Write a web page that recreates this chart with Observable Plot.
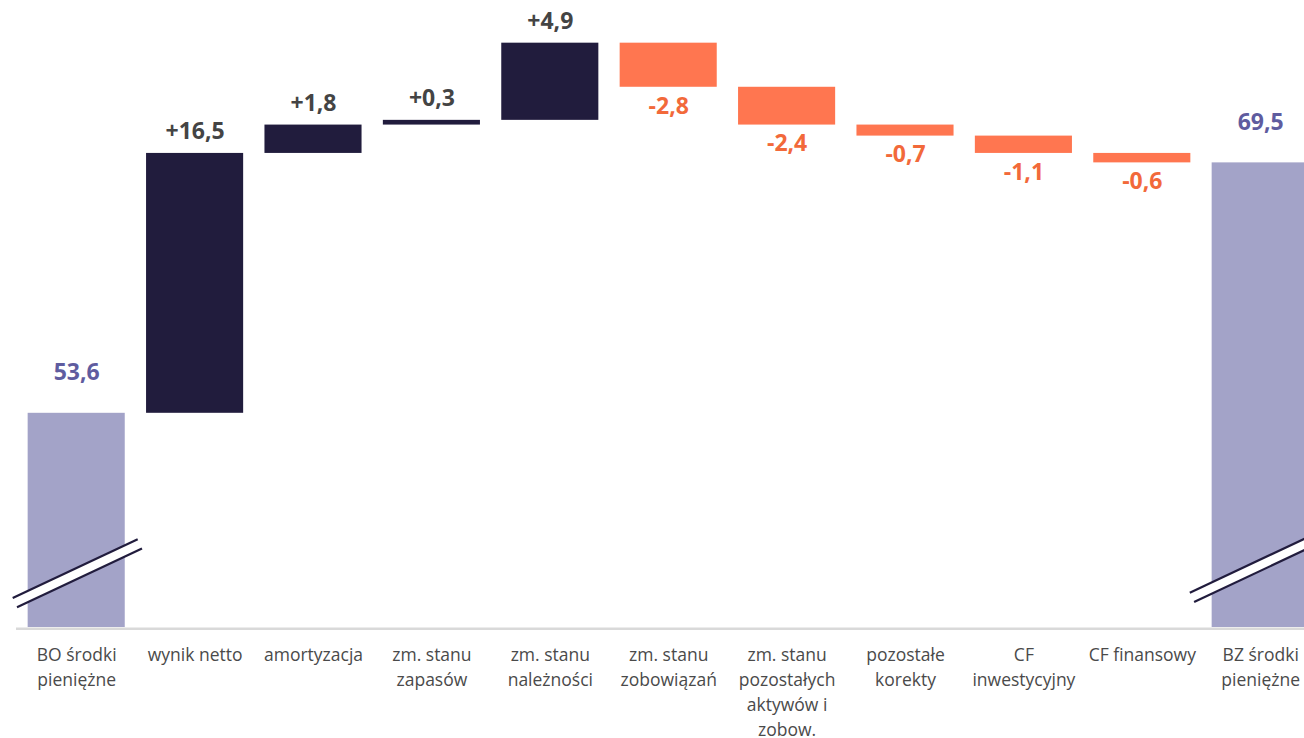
<!DOCTYPE html>
<html><head><meta charset="utf-8">
<script src="https://cdn.jsdelivr.net/npm/d3@7"></script>
<script src="https://cdn.jsdelivr.net/npm/@observablehq/plot@0.6"></script>
<style>html,body{margin:0;padding:0;background:#fff;overflow:hidden}</style>
</head><body><div id="chart"></div>
<script>
// ---- data ----
const categories = [
  "BO środki\npieniężne", "wynik netto", "amortyzacja", "zm. stanu\nzapasów",
  "zm. stanu\nnależności", "zm. stanu\nzobowiązań", "zm. stanu\npozostałych\naktywów i\nzobow.",
  "pozostałe\nkorekty", "CF\ninwestycyjny", "CF finansowy", "BZ środki\npieniężne"
];
const kinds = ["total","delta","delta","delta","delta","delta","delta","delta","delta","delta","total"];
const values = [53.6, 16.5, 1.8, 0.3, 4.9, -2.8, -2.4, -0.7, -1.1, -0.6, 69.5];
const axisDomain = [40, 80];
const breakCategories = ["BO środki\npieniężne", "BZ środki\npieniężne"];

// ---- build rows ----
let cum = 0;
const rows = categories.map((c, i) => {
  const v = values[i], k = kinds[i];
  let y1, y2, type;
  if (k === "total") { y1 = axisDomain[0]; y2 = v; cum = v; type = "total"; }
  else { y1 = cum; y2 = cum + v; cum += v; type = v >= 0 ? "pos" : "neg"; }
  const label = (k === "delta" && v > 0 ? "+" : "") + v.toFixed(1).replace(".", ",");
  return {cat: c, y1, y2, type, label, top: Math.max(y1, y2), bottom: Math.min(y1, y2)};
});

const colors = {total: "#a3a3c8", pos: "#211c3d", neg: "#ff7650"};
const labelColors = {total: "#5f5c9f", pos: "#444444", neg: "#f2693a"};

// broken-axis symbol drawn with the chart's scales
function breakMark(index, scales) {
  const g = d3.create("svg:g");
  const x = scales.x, y = scales.y;
  const half = x.bandwidth ? x.bandwidth() / 2 : 0;
  const specs = [
    {cat: breakCategories[0], dx: -63.5, v: 41.84},
    {cat: breakCategories[1], dx: -70.4, v: 42.18}
  ];
  const len = 125, slope = -0.47, off = [4.3, 9.3];
  for (const s of specs) {
    const cx = x(s.cat) + half;
    const p1 = [cx + s.dx, y(s.v)];
    const p2 = [p1[0] + len, p1[1] + slope * len];
    const p3 = [p2[0] + off[0], p2[1] + off[1]];
    const p4 = [p1[0] + off[0], p1[1] + off[1]];
    g.append("path").attr("d", `M${p1}L${p2}L${p3}L${p4}Z`).attr("fill", "white");
    g.append("line").attr("x1", p1[0]).attr("y1", p1[1]).attr("x2", p2[0]).attr("y2", p2[1])
      .attr("stroke", "#211c3d").attr("stroke-width", 2.2);
    g.append("line").attr("x1", p4[0]).attr("y1", p4[1]).attr("x2", p3[0]).attr("y2", p3[1])
      .attr("stroke", "#211c3d").attr("stroke-width", 2.2);
  }
  return g.node();
}

const font = "'Open Sans', 'Noto Sans', sans-serif";
const chart = Plot.plot({
  width: 1304, height: 738,
  marginLeft: 16, marginRight: 0, marginTop: 0, marginBottom: 111,
  style: {fontFamily: font, color: "#4a4a4a", background: "white"},
  x: {domain: categories, range: [17, 1319.4], paddingInner: 0.18, paddingOuter: 0.09, round: false, label: null},
  y: {domain: axisDomain, range: [627, -3], axis: null},
  marks: [
    Plot.barY(rows.filter(d => d.type === "total"), {x: "cat", y1: "y1", y2: "y2", fill: colors.total}),
    Plot.barY(rows.filter(d => d.type === "pos"), {x: "cat", y1: "y1", y2: "y2", fill: colors.pos}),
    Plot.barY(rows.filter(d => d.type === "neg"), {x: "cat", y1: "y1", y2: "y2", fill: colors.neg}),
    breakMark,
    Plot.ruleY([axisDomain[0]], {stroke: "#d9d9d9", strokeWidth: 2.5, dy: 1.2}),
    Plot.text(rows.filter(d => d.type === "total"), {x: "cat", y: "top", text: "label", lineAnchor: "bottom", dy: -33, fill: labelColors.total, fontSize: 23, fontWeight: "bold"}),
    Plot.text(rows.filter(d => d.type === "pos"), {x: "cat", y: "top", text: "label", lineAnchor: "bottom", dy: -14, fill: labelColors.pos, fontSize: 23, fontWeight: "bold"}),
    Plot.text(rows.filter(d => d.type === "neg"), {x: "cat", y: "bottom", text: "label", lineAnchor: "top", dy: 10, fill: labelColors.neg, fontSize: 23, fontWeight: "bold"}),
    Plot.axisX({tickSize: 0, tickPadding: 16, fontSize: 17.5, lineHeight: 1.43, label: null})
  ]
});
document.getElementById("chart").append(chart);
</script>
</body></html>
